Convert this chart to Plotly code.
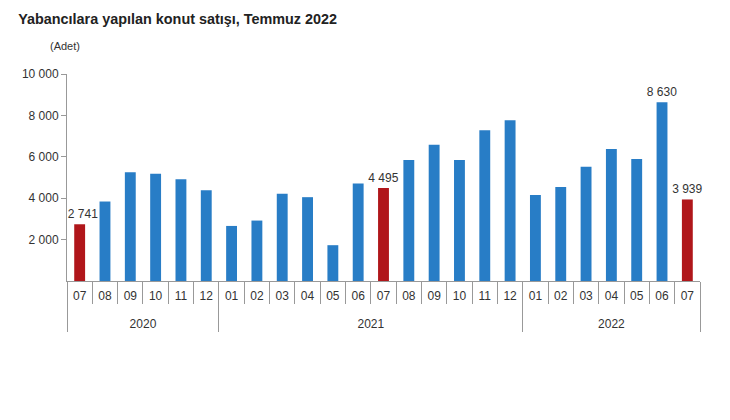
import plotly.graph_objects as go

years = ["2020"] * 6 + ["2021"] * 12 + ["2022"] * 7
months = ["07", "08", "09", "10", "11", "12",
          "01", "02", "03", "04", "05", "06", "07", "08", "09", "10", "11", "12",
          "01", "02", "03", "04", "05", "06", "07"]
sales = [2741, 3840, 5250, 5180, 4910, 4380,
         2660, 2920, 4210, 4050, 1730, 4710, 4495, 5840, 6580, 5840, 7280, 7760,
         4160, 4540, 5520, 6380, 5890, 8630, 3939]
labelled = [0, 12, 23, 24]

blue = "rgb(40,125,198)"
red = "rgb(176,22,26)"
colors = [red if m == "07" else blue for m in months]
texts = [format(v, ",").replace(",", " ") if i in labelled else "" for i, v in enumerate(sales)]
texts[0] = "\u00a0\u00a0" + texts[0]  # nudge first label off the y axis

# plotly orders the month level by first appearance, so 2020's months get a
# zero-width space to keep 2021 in 01..12 order
month_x = [m + "\u200b" if y == "2020" else m for y, m in zip(years, months)]
# empty first line pushes the year row further down
year_x = ["<br>" + y for y in years]

fig = go.Figure(go.Bar(
    x=[year_x, month_x],
    y=sales,
    marker=dict(color=colors, line=dict(width=0)),
    text=texts,
    textposition="outside",
    constraintext="none",
    cliponaxis=False,
    textfont=dict(size=12, color="#333333"),
))

fig.update_layout(
    width=730, height=420,
    margin=dict(l=59, r=38, t=66, b=147),
    paper_bgcolor="white", plot_bgcolor="white",
    font=dict(family="Liberation Sans, Arial", size=12, color="#333333"),
    separators=", ",
    bargap=0.57,
    showlegend=False,
    title=dict(text="<b>Yabancılara yapılan konut satışı, Temmuz 2022</b>",
               x=0.014, xanchor="left", y=0.974, yanchor="middle",
               font=dict(size=14.4, color="#222222")),
    annotations=[dict(text="(Adet)", xref="paper", yref="paper", x=-0.003, y=1.135,
                      xanchor="center", yanchor="middle", showarrow=False,
                      font=dict(size=11, color="#333333"))],
)
fig.update_xaxes(
    type="multicategory",
    automargin=False,
    showline=True, linecolor="#999999", linewidth=1,
    ticks="outside", tickson="boundaries", ticklen=22, tickcolor="#999999",
    ticklabelstandoff=4,
    showdividers=True, dividercolor="#999999", dividerwidth=1,
    tickfont=dict(size=12, color="#333333"),
    showgrid=False,
)
fig.update_yaxes(
    range=[0, 10000], tickvals=[2000, 4000, 6000, 8000, 10000],
    tickformat=",d",
    automargin=False,
    showline=True, linecolor="#999999", linewidth=1,
    ticks="outside", ticklen=5, tickcolor="#999999",
    showgrid=False, zeroline=False,
    tickfont=dict(size=12, color="#333333"),
)

fig.write_html("out.html")
